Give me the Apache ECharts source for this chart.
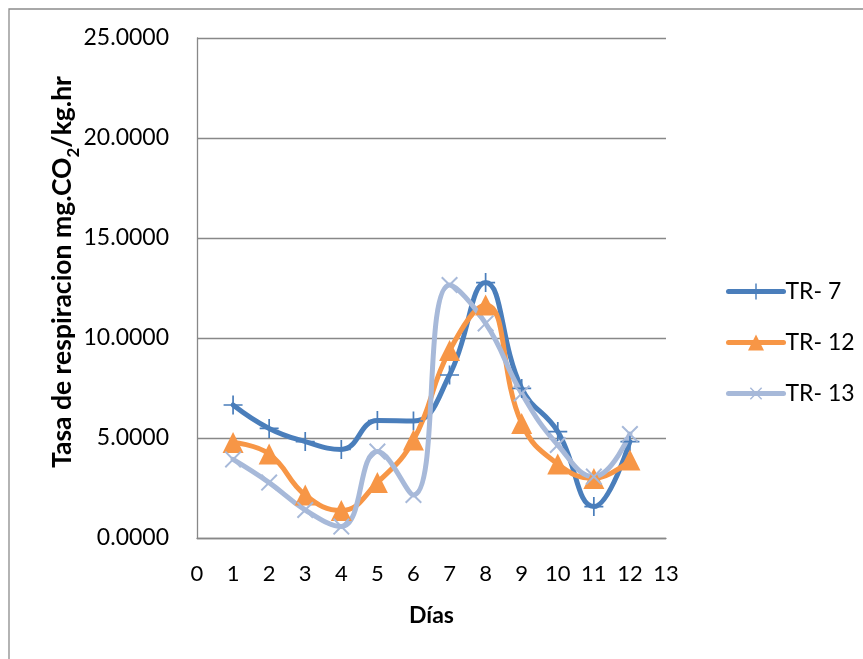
<!DOCTYPE html>
<html>
<head>
<meta charset="utf-8">
<script src="https://cdn.jsdelivr.net/npm/echarts@6/dist/echarts.min.js"></script>
<style>
  html, body { margin: 0; padding: 0; background: #fff; }
  #chart { width: 863px; height: 659px; }
</style>
</head>
<body>
<div id="chart"></div>
<script>
// Respiration rate per day for three samples
const days = [1, 2, 3, 4, 5, 6, 7, 8, 9, 10, 11, 12];
const tr7  = [6.65, 5.48, 4.82, 4.43, 5.87, 5.85, 8.15, 12.77, 7.48, 5.32, 1.57, 4.82];
const tr12 = [4.77, 4.20, 2.15, 1.37, 2.77, 4.90, 9.37, 11.65, 5.73, 3.70, 2.98, 3.90];
const tr13 = [3.93, 2.77, 1.40, 0.57, 4.32, 2.15, 12.65, 10.73, 7.23, 4.65, 3.07, 5.20];
const seriesNames = ['TR- 7', 'TR- 12', 'TR- 13'];
const xTicks = [0, 13, 1];   // min, max, step
const yTicks = [0, 25, 5];

const FONT = 'Lato';
const pair = (xs, ys) => xs.map((x, i) => [x, ys[i]]);

// thin plus-shaped marker
const plusPath = 'path://M9.1,0 H10.9 V9.1 H20 V10.9 H10.9 V20 H9.1 V10.9 H0 V9.1 H9.1 Z';

const chart = echarts.init(document.getElementById('chart'), null, { renderer: 'canvas' });

const lineBase = (name, data, color, symbol, size, rotate) => ({
  name: name,
  type: 'line',
  data: pair(days, data),
  smooth: 0.45,
  symbol: symbol,
  symbolSize: size,
  symbolRotate: rotate || 0,
  showAllSymbol: true,
  lineStyle: { color: color, width: 5, cap: 'round', join: 'round' },
  itemStyle: { color: color, borderWidth: 0 },
  emphasis: { disabled: true },
  animation: false
});

chart.setOption({
  animation: false,
  backgroundColor: '#ffffff',
  grid: { left: 197, right: 197, top: 38, bottom: 121, containLabel: false },
  graphic: [
    {
      type: 'rect',
      shape: { x: 9, y: 9, width: 900, height: 700 },
      style: { fill: 'none', stroke: '#8c8c8c', lineWidth: 1.3 },
      silent: true
    },
    {
      type: 'text',
      x: 62, y: 272,
      rotation: Math.PI / 2,
      style: {
        text: '{m|Tasa de respiracion mg.CO}{s|2}{m|/kg.hr}',
        align: 'center',
        verticalAlign: 'middle',
        fill: '#000',
        rich: {
          m: { fontFamily: FONT, fontWeight: 'bold', fontSize: 26.5, fill: '#000', verticalAlign: 'bottom' },
          s: { fontFamily: FONT, fontWeight: 'bold', fontSize: 17, fill: '#000', padding: [0, 0, -7, 0], verticalAlign: 'bottom' }
        }
      },
      silent: true
    }
  ],
  legend: {
    orient: 'vertical',
    left: 721,
    top: 275,
    itemWidth: 55,
    itemHeight: 20,
    itemGap: 28,
    data: seriesNames,
    lineStyle: { width: 5, cap: 'round' },
    textStyle: { fontFamily: FONT, fontSize: 23, color: '#000', padding: [0, 0, 0, -3] },
    selectedMode: false
  },
  xAxis: {
    type: 'value',
    min: xTicks[0], max: xTicks[1], interval: xTicks[2],
    name: 'Días',
    nameLocation: 'middle',
    nameGap: 66,
    nameTextStyle: { fontFamily: FONT, fontWeight: 'bold', fontSize: 23, color: '#000' },
    axisLine: { show: true, lineStyle: { color: '#888', width: 1.3 } },
    axisTick: { show: false },
    splitLine: { show: false },
    axisLabel: { fontFamily: FONT, fontSize: 22, color: '#000', margin: 25 }
  },
  yAxis: {
    type: 'value',
    min: yTicks[0], max: yTicks[1], interval: yTicks[2],
    axisLine: { show: true, lineStyle: { color: '#888', width: 1.3 } },
    axisTick: { show: false },
    splitLine: { show: true, lineStyle: { color: '#888', width: 1.3 } },
    axisLabel: {
      fontFamily: FONT, fontSize: 23, color: '#000', margin: 28,
      formatter: v => v.toFixed(4)
    }
  },
  series: [
    lineBase(seriesNames[0], tr7, '#4A7EBB', plusPath, 19),
    lineBase(seriesNames[1], tr12, '#F79646', 'triangle', 21),
    lineBase(seriesNames[2], tr13, '#A7B9D9', plusPath, 22, 45)
  ]
});
</script>
</body>
</html>
